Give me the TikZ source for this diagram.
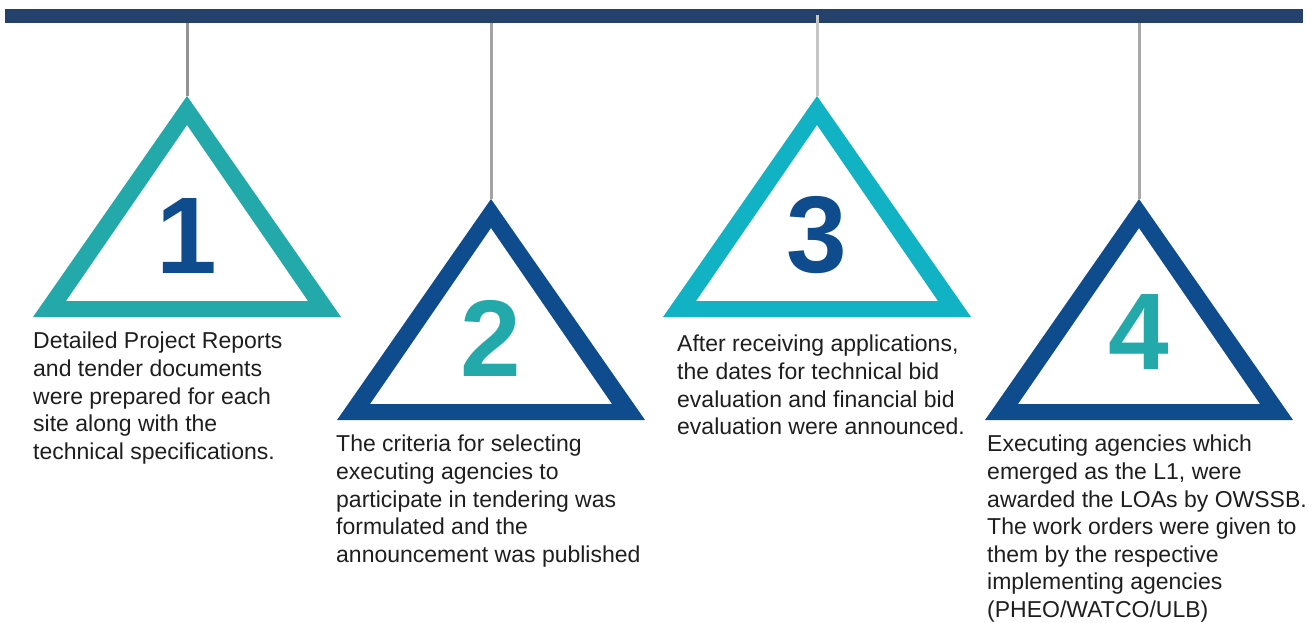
\documentclass[tikz,border=0pt]{standalone}
\usepackage{fontspec}
\setmainfont{Liberation Sans}
\usepackage{xcolor}
\usetikzlibrary{positioning}

\definecolor{barblue}{HTML}{23416A}
\definecolor{tealring}{HTML}{24A9AA}
\definecolor{cyanring}{HTML}{10B2C4}
\definecolor{darkring}{HTML}{0E4C8E}
\definecolor{textgray}{HTML}{1E1E1E}

\begin{document}
\begin{tikzpicture}[
    x=1pt, y=-1pt,
    hanger/.style={line width=3pt},
    ring/.style={even odd rule},
    digit/.style={
    anchor=base,
    inner sep=0pt,
    font=\bfseries\fontsize{109}{109}\selectfont},
    steptext/.style={
    anchor=north west,
    inner sep=0pt,
    align=left,
    text=textgray,
    font=\fontsize{23}{27.6}\selectfont}
    ]
    \useasboundingbox (0,0) rectangle (1316,622);

    % top bar
    \fill[barblue] (5,9) rectangle (1303,23);

    % triangles: index / centre x / apex y / ring colour / digit colour / digit baseline / line colour / line start
    \foreach \i/\cx/\ay/\rc/\dc/\db/\lc/\ls in {
        1/187/96/tealring/darkring/273/gray!85!white/23,
        2/491/199/darkring/tealring/376/gray!72!white/23,
        3/817/96/cyanring/darkring/272/gray!45!white/15,
        4/1139/199/darkring/tealring/369/gray!68!white/23}{
        \coordinate (hook\i) at (\cx,\ls);
        \coordinate (apex\i) at (\cx,\ay);
        \draw[hanger, \lc] (hook\i) -- (apex\i);
        \fill[ring, \rc] (apex\i) -- (\cx-154,\ay+221) -- (\cx+154,\ay+221) -- cycle
            (\cx,\ay+29) -- (\cx-121,\ay+205) -- (\cx+121,\ay+205) -- cycle;
        \node[digit, text=\dc] (num\i) at (\cx,\db) {\i};
    }

    % descriptions
    \node[steptext] (desc1) at (33,332) {Detailed Project Reports\\and tender documents\\were prepared for each\\site along with the\\technical specifications.};
    \node[steptext] (desc2) at (336,435) {The criteria for selecting\\executing agencies to\\participate in tendering was\\formulated and the\\announcement was published};
    \node[steptext] (desc3) at (677,335) {After receiving applications,\\the dates for technical bid\\evaluation and financial bid\\evaluation were announced.};
    \node[steptext] (desc4) at (987,435) {Executing agencies which\\emerged as the L1, were\\awarded the LOAs by OWSSB.\\The work orders were given to\\them by the respective\\implementing agencies\\(PHEO/WATCO/ULB)};
\end{tikzpicture}
\end{document}
